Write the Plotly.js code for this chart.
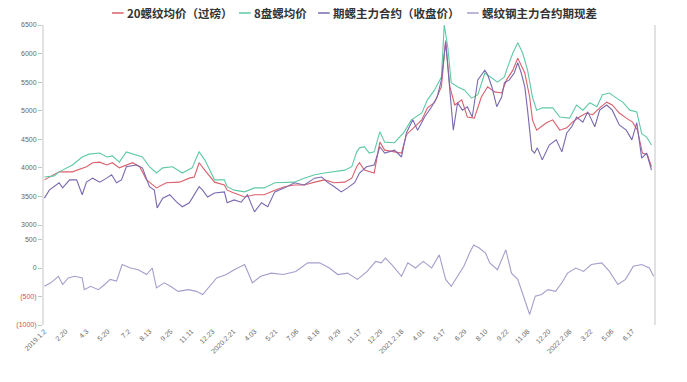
<!DOCTYPE html>
<html>
<head>
<meta charset="utf-8">
<script src="https://cdn.plot.ly/plotly-3.0.1.min.js"></script>
<style>html,body{margin:0;padding:0;background:#fff;}#chart{width:687px;height:382px;}</style>
</head>
<body>
<div id="chart"></div>
<script>
// x = trading-day index; tick labels every 30 trading days
var tickDays = [0,30,60,90,120,150,180,210,240,270,300,330,360,390,420,450,480,510,540,570,600,630,660,690,720,750,780,810,840];
var tickLabels = ["2019.1.2","2.20","4.3","5.20","7.2","8.13","9.25","11.11","12.23","2020.2.21","4.03","5.21","7.06","8.18","9.29","11.17","12.29","2021.2.18","4.01","5.17","6.29","8.10","9.22","11.08","12.20","2022.2.08","3.22","5.06","6.17"];

// 20螺纹均价（过磅）
var rebar20Day = [0,21,40,60,69,79,89,97,107,117,126,136,146,160,174,193,207,214,221,229,243,257,261,271,286,300,314,329,343,357,371,386,400,414,429,439,446,450,457,471,479,486,500,510,517,529,539,547,557,567,573,579,586,596,604,614,624,633,643,653,657,660,669,676,686,693,697,703,717,726,736,746,754,764,774,783,793,803,811,821,831,840,847,854,861,867];
var rebar20Val = [3790,3930,3930,4020,4090,4100,4050,4090,4000,4050,4090,4020,3790,3650,3740,3750,3820,3840,4090,3960,3750,3700,3610,3560,3490,3530,3530,3610,3670,3700,3700,3750,3790,3740,3750,3820,4020,4090,3960,3910,4450,4310,4280,4260,4580,4720,4840,5050,5140,5420,6230,5420,5100,5190,4890,4870,5240,5420,5330,5310,5450,5540,5710,5920,5660,5240,4840,4660,4790,4840,4660,4700,4800,4890,4960,4930,5050,5150,5100,4960,4870,4800,4660,4260,4230,4020];

// 8盘螺均价
var coil8Day = [0,14,21,40,54,64,79,89,97,107,117,131,140,150,160,169,183,197,211,219,221,229,243,257,261,271,286,300,314,329,343,357,371,386,400,414,429,439,446,450,457,464,471,479,486,500,514,524,539,547,557,567,571,576,581,590,600,610,619,629,639,647,657,660,669,676,683,690,697,703,711,726,736,750,760,769,779,789,797,807,817,826,836,846,853,860,867];
var coil8Val = [3840,3860,3930,4050,4190,4240,4260,4190,4210,4100,4280,4230,4190,4020,3910,4000,4020,3910,4000,4230,4280,4140,3790,3790,3670,3610,3580,3650,3650,3740,3750,3750,3820,3880,3910,3930,3960,4020,4280,4350,4370,4260,4280,4630,4450,4440,4630,4840,4960,5190,5360,5590,6500,6120,5490,5420,5360,5220,5280,5660,5570,5500,5590,5710,6010,6190,6010,5710,5240,5010,5050,5050,4890,4870,5100,5010,5140,5070,5280,5310,5220,5150,5010,4980,4600,4540,4400];

// 期螺主力合约（收盘价）
var futDay = [0,7,21,26,36,46,54,60,69,79,89,96,103,110,117,131,140,150,157,161,169,179,189,197,207,214,221,226,233,243,257,261,271,281,290,300,310,319,329,343,357,371,386,396,404,414,424,433,443,450,460,471,479,486,500,510,517,526,533,543,553,561,567,573,579,584,590,597,604,611,619,629,633,639,646,653,657,664,671,676,681,686,690,693,696,700,704,711,721,731,739,746,753,760,769,776,786,793,803,811,821,831,839,846,853,860,867];
var futVal = [3470,3610,3740,3650,3790,3790,3530,3750,3820,3750,3820,3880,3740,3790,4020,4050,4000,3670,3610,3300,3470,3530,3400,3320,3390,3530,3670,3610,3490,3560,3580,3390,3440,3400,3530,3230,3390,3320,3580,3650,3740,3700,3820,3840,3750,3670,3580,3650,3740,3910,4020,4050,4370,4260,4310,4190,4610,4840,4660,4890,5070,5240,5540,6200,5420,4660,5140,5010,5070,4890,5540,5710,5630,5420,5070,5240,5490,5540,5660,5840,5660,5420,5010,4660,4310,4260,4350,4140,4400,4490,4280,4610,4720,4890,4800,4980,4720,5010,5100,5010,4750,4660,4490,4790,4170,4260,3960];

// 螺纹钢主力合约期现差
var spreadDay = [0,9,20,26,34,43,54,57,66,77,86,94,103,111,123,134,146,154,160,171,180,191,206,217,226,234,246,260,271,286,297,309,324,341,359,376,393,407,419,433,447,461,473,481,487,496,510,519,530,541,553,564,573,581,590,599,607,613,621,630,636,647,659,667,676,684,693,701,710,719,730,739,747,759,770,781,796,807,819,830,841,853,864,870];
var spreadVal = [-320,-260,-145,-290,-175,-145,-175,-380,-320,-380,-290,-200,-230,60,0,-30,-115,0,-350,-260,-320,-410,-380,-410,-465,-350,-175,-115,-30,60,-260,-145,-90,-115,-60,90,90,0,-115,-90,-200,-60,115,90,175,60,-145,90,0,115,0,230,-200,-320,-145,30,260,405,350,260,90,-30,320,-90,-200,-495,-815,-495,-465,-380,-410,-260,-90,0,-60,60,90,-60,-290,-200,30,60,0,-145];

var priceTicks = [3000,3500,4000,4500,5000,5500,6000,6500];
var spreadTicks = [-1000,-500,0,500];
var spreadTickText = ['<span style="color:#d0505a">(1000)</span>','<span style="color:#d0505a">(500)</span>','0','500'];

var names = ["20螺纹均价（过磅）","8盘螺均价","期螺主力合约（收盘价）","螺纹钢主力合约期现差"];
var colors = ["#d9606c","#5fc9a5","#7a68b0","#a39fcb"];

var traces = [
  {x: rebar20Day, y: rebar20Val, name: names[0], type:'scatter', mode:'lines', line:{color:colors[0], width:1.1}, xaxis:'x', yaxis:'y'},
  {x: coil8Day, y: coil8Val, name: names[1], type:'scatter', mode:'lines', line:{color:colors[1], width:1.1}, xaxis:'x', yaxis:'y'},
  {x: futDay, y: futVal, name: names[2], type:'scatter', mode:'lines', line:{color:colors[2], width:1.1}, xaxis:'x', yaxis:'y'},
  {x: spreadDay, y: spreadVal, name: names[3], type:'scatter', mode:'lines', line:{color:colors[3], width:1.1}, xaxis:'x', yaxis:'y2'}
];

var tickFont = {family:'"Liberation Sans", Arial, sans-serif', size:7, color:'#686868'};
var axisColor = '#c4c4c4';

// legend drawn as line samples + text labels above the plot
var legendLineX = [0.1127, 0.3203, 0.4493, 0.6928];
var legendLineLen = 0.019;
var legendY = 1.04;
var shapes = [
  {type:'line', xref:'paper', yref:'paper', x0:0, x1:0, y0:0, y1:1, line:{color:axisColor, width:1}},
  {type:'line', xref:'paper', yref:'paper', x0:1, x1:1, y0:0, y1:1, line:{color:axisColor, width:1}}
];
var annotations = [];
for (var i = 0; i < names.length; i++) {
  shapes.push({type:'line', xref:'paper', yref:'paper', x0:legendLineX[i], x1:legendLineX[i]+legendLineLen,
               y0:legendY, y1:legendY, line:{color:colors[i], width:1.5}});
  annotations.push({xref:'paper', yref:'paper', x:legendLineX[i]+legendLineLen+0.002, y:legendY,
                    xanchor:'left', yanchor:'middle', showarrow:false, text:names[i],
                    font:{family:'"Noto Sans CJK SC", sans-serif', size:11.5, color:'#333333', weight:'bold'}});
}

var layout = {
  width: 687, height: 382,
  margin: {l:43, r:32, t:25, b:57},
  paper_bgcolor:'#ffffff', plot_bgcolor:'#ffffff',
  showlegend: false,
  xaxis: {anchor:'y2', type:'linear', range:[-2, 872], tickmode:'array', tickvals:tickDays, ticktext:tickLabels,
          tickangle:-45, tickfont:tickFont, showgrid:false, zeroline:false, showline:false, ticks:''},
  yaxis: {domain:[0.3333, 1], range:[3000, 6500], tickmode:'array', tickvals:priceTicks,
          tickfont:tickFont, showgrid:false, zeroline:false, showline:false, ticks:'outside', ticklen:4, tickcolor:axisColor},
  yaxis2: {domain:[0, 0.285], range:[-1000, 500], tickmode:'array', tickvals:spreadTicks, ticktext:spreadTickText,
          tickfont:tickFont, showgrid:false, zeroline:false, showline:false, ticks:'outside', ticklen:4, tickcolor:axisColor},
  yaxis3: {overlaying:'y', anchor:'x', side:'right', range:[3000, 6500], tickmode:'array', tickvals:priceTicks,
          tickfont:tickFont, showgrid:false, zeroline:false, showline:false, ticks:'outside', ticklen:4, tickcolor:axisColor},
  yaxis4: {overlaying:'y2', anchor:'x', side:'right', range:[-1000, 500], tickmode:'array', tickvals:spreadTicks, ticktext:spreadTickText,
          tickfont:tickFont, showgrid:false, zeroline:false, showline:false, ticks:'outside', ticklen:4, tickcolor:axisColor},
  shapes: shapes,
  annotations: annotations
};

Plotly.newPlot('chart', traces, layout, {displayModeBar:false, staticPlot:true});
</script>
</body>
</html>
